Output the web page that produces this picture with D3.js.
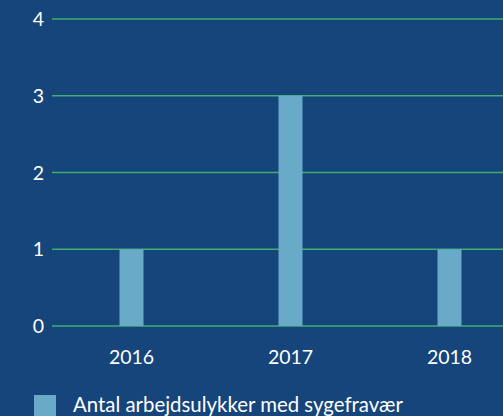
<!DOCTYPE html>
<html><head><meta charset="utf-8">
<script src="https://cdn.jsdelivr.net/npm/d3@7"></script>
<style>html,body{margin:0;padding:0;background:#15457a;overflow:hidden}</style>
</head><body>
<svg id="c" width="503" height="416"></svg>
<script>
const categories = ["2016","2017","2018"];
const values = [1,3,1];
const yTicks = [0,1,2,3,4];
const seriesName = "Antal arbejdsulykker med sygefravær";

const svg = d3.select("#c");
svg.append("rect").attr("width",503).attr("height",416).attr("fill","#15457a");
const x = d3.scaleBand().domain(categories).range([52,529]).paddingInner(0).paddingOuter(0);
const y = d3.scaleLinear().domain([0,4]).range([326,19]);
const font = "Lato, 'Open Sans', sans-serif";

svg.append("g").selectAll("line").data(yTicks).join("line")
  .attr("x1",52).attr("x2",503)
  .attr("y1",d=>y(d)).attr("y2",d=>y(d))
  .attr("stroke","#3fae72").attr("stroke-width",1.5);

svg.append("g").selectAll("text").data(yTicks).join("text")
  .attr("x",38.5).attr("y",d=>y(d)).attr("dy","0.36em")
  .attr("text-anchor","middle").attr("fill","#fff")
  .attr("font-family",font).attr("font-size",19.5).text(d=>d);

const bw = 24;
svg.append("g").selectAll("rect").data(values).join("rect")
  .attr("x",(d,i)=>x(categories[i])+x.bandwidth()/2-bw/2)
  .attr("width",bw)
  .attr("y",d=>y(d)).attr("height",d=>y(0)-y(d))
  .attr("fill","#6aaac9");

svg.append("g").selectAll("text").data(categories).join("text")
  .attr("x",d=>x(d)+x.bandwidth()/2).attr("y",364)
  .attr("text-anchor","middle").attr("fill","#fff")
  .attr("font-family",font).attr("font-size",19.5).text(d=>d);

svg.append("rect").attr("x",34).attr("y",395).attr("width",22).attr("height",22).attr("fill","#6aaac9");
svg.append("text").attr("x",73).attr("y",412).attr("fill","#fff")
  .attr("font-family",font).attr("font-size",20.4).text(seriesName);
</script>
</body></html>
